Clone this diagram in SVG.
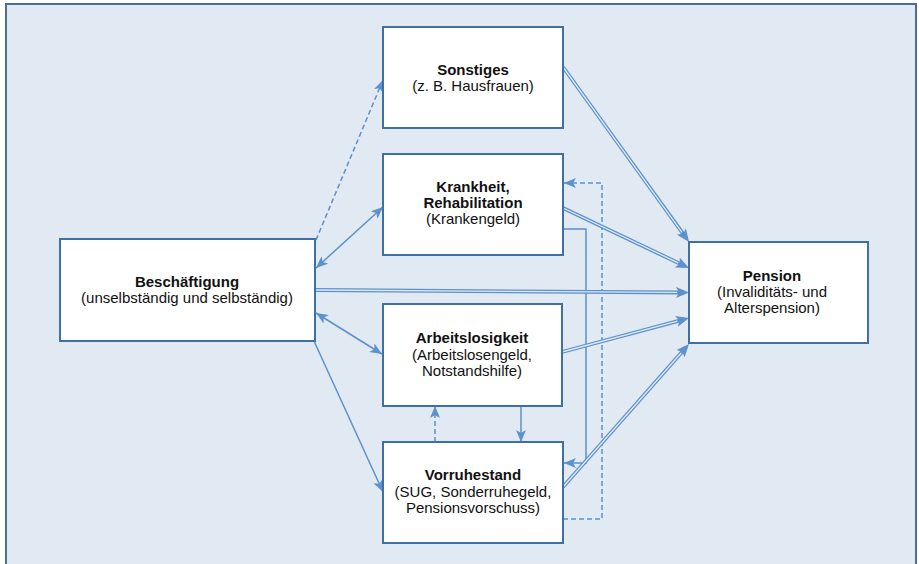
<svg xmlns="http://www.w3.org/2000/svg" width="919" height="564" viewBox="0 0 919 564">
<defs>
<style>
.frame{fill:#e1e9f3;stroke:#4f6d92;stroke-width:2}
.box{fill:#ffffff;stroke:#3e6fa7;stroke-width:2}
text{font-family:"Liberation Sans",Arial,sans-serif;font-size:15px;fill:#111;text-anchor:middle}
.b{font-weight:bold}
.c{fill:none;stroke:#5b91cc;stroke-width:1.5}
.d{stroke-dasharray:5,3}
.dbl{fill:none;stroke:#5b91cc;stroke-width:3.8}
.dbi{fill:none;stroke:#e1e9f3;stroke-width:1.3}
</style>
<marker id="a" markerUnits="userSpaceOnUse" markerWidth="12" markerHeight="10" viewBox="0 0 12 10" refX="12" refY="5" orient="auto">
<path d="M0,0 L12,5 L0,10 L3,5 z" fill="#5b91cc"/>
</marker>
<marker id="as" markerUnits="userSpaceOnUse" markerWidth="12" markerHeight="10" viewBox="0 0 12 10" refX="0" refY="5" orient="auto">
<path d="M12,0 L0,5 L12,10 L9,5 z" fill="#5b91cc"/>
</marker>
<marker id="ad" markerUnits="userSpaceOnUse" markerWidth="13" markerHeight="11" viewBox="0 0 13 11" refX="8" refY="5.5" orient="auto">
<path d="M0,0 L13,5.5 L0,11 L3,5.5 z" fill="#5b91cc"/>
</marker>
</defs>
<rect class="frame" x="6" y="4" width="910" height="570"/>
<g id="connectors">
<path class="c d" d="M316,240 L383,80" marker-end="url(#a)"/>
<path class="c" d="M316,268 L383,207" marker-start="url(#as)" marker-end="url(#a)"/>
<path class="c" d="M316,313 L382,354" marker-start="url(#as)" marker-end="url(#a)"/>
<path class="c" d="M314,341 L383,492" marker-end="url(#a)"/>
<path class="c" d="M563,229 H586 V463 H564" marker-end="url(#a)"/>
<path class="c d" d="M563,519 H602 V183 H564" marker-end="url(#a)"/>
<path class="c" d="M521,406 V442" marker-end="url(#a)"/>
<path class="c d" d="M435,442 V406" marker-end="url(#a)"/>
<path class="dbl" d="M563,67 L686.1,237.9" marker-end="url(#ad)"/>
<path class="dbi" d="M563,67 L682,232.3"/>
<path class="dbl" d="M563,208 L684.5,265.9" marker-end="url(#ad)"/>
<path class="dbi" d="M563,208 L678.2,262.8"/>
<path class="dbl" d="M315,290 L684,292.5" marker-end="url(#ad)"/>
<path class="dbi" d="M315,290 L677,292.4"/>
<path class="dbl" d="M562,352 L684.2,319.3" marker-end="url(#ad)"/>
<path class="dbi" d="M562,352 L677.4,321.1"/>
<path class="dbl" d="M563,487 L685.7,347.8" marker-end="url(#ad)"/>
<path class="dbi" d="M563,487 L681.1,353"/>
</g>
<g id="beschaeftigung">
<rect class="box" x="60" y="239" width="255" height="102"/>
<text x="187" y="287" class="b">Beschäftigung</text>
<text x="187" y="303">(unselbständig und selbständig)</text>
</g>
<g id="sonstiges">
<rect class="box" x="383" y="27" width="180" height="101"/>
<text x="473" y="75" class="b">Sonstiges</text>
<text x="473" y="91">(z. B. Hausfrauen)</text>
</g>
<g id="krankheit">
<rect class="box" x="383" y="154" width="180" height="101"/>
<text x="473" y="192" class="b">Krankheit,</text>
<text x="473" y="208" class="b">Rehabilitation</text>
<text x="473" y="224">(Krankengeld)</text>
</g>
<g id="arbeitslosigkeit">
<rect class="box" x="383" y="304" width="179" height="102"/>
<text x="472" y="343" class="b">Arbeitslosigkeit</text>
<text x="472" y="360">(Arbeitslosengeld,</text>
<text x="472" y="376">Notstandshilfe)</text>
</g>
<g id="vorruhestand">
<rect class="box" x="383" y="442" width="180" height="101"/>
<text x="473" y="480" class="b">Vorruhestand</text>
<text x="473" y="497">(SUG, Sonderruhegeld,</text>
<text x="473" y="513">Pensionsvorschuss)</text>
</g>
<g id="pension">
<rect class="box" x="689" y="242" width="179" height="101"/>
<text x="772" y="281" class="b">Pension</text>
<text x="772" y="297">(Invaliditäts- und</text>
<text x="772" y="313">Alterspension)</text>
</g>
</svg>
